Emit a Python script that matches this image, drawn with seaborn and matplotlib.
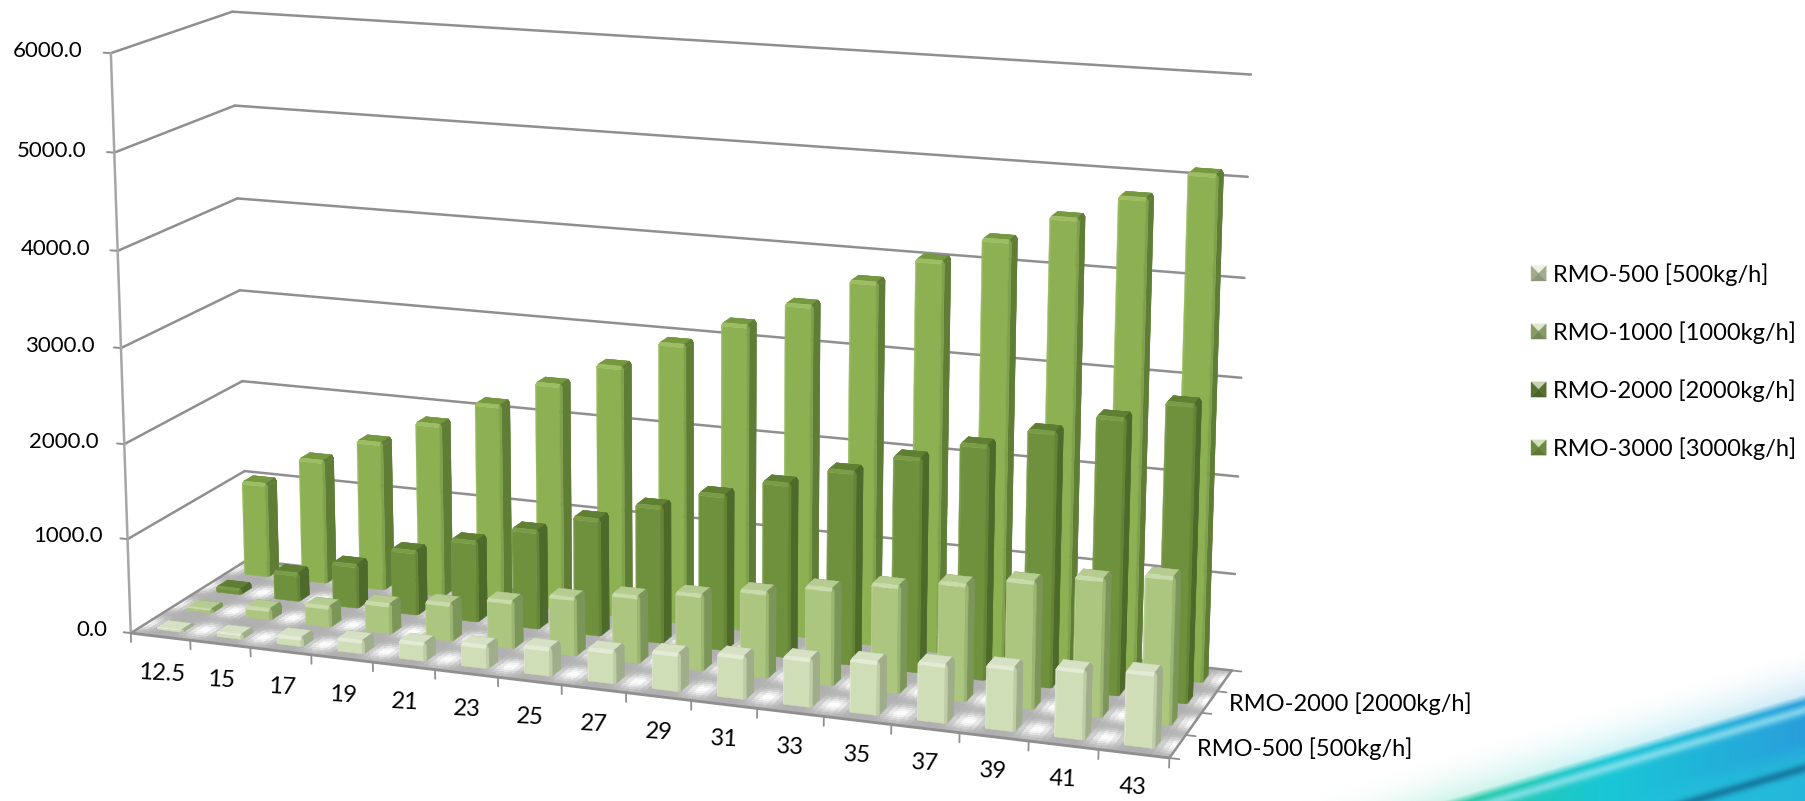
import numpy as np
import matplotlib
matplotlib.use("Agg")
import matplotlib.pyplot as plt
import seaborn as sns
from matplotlib.legend_handler import HandlerBase
from matplotlib.patches import Patch, Polygon
from mpl_toolkits.mplot3d import proj3d
from mpl_toolkits.mplot3d.art3d import Poly3DCollection

# ---- chart data -------------------------------------------------------
categories = ["12.5", "15", "17", "19", "21", "23", "25", "27",
              "29", "31", "33", "35", "37", "39", "41", "43"]
series_names = ["RMO-500 [500kg/h]", "RMO-1000 [1000kg/h]",
                "RMO-2000 [2000kg/h]", "RMO-3000 [3000kg/h]"]
rmo_500 = [20, 50, 95, 140, 190, 240, 290, 340, 390, 440, 490, 540, 590, 640, 690, 740]
rmo_1000 = [40, 120, 220, 320, 400, 500, 610, 700, 790, 890, 1000, 1100, 1190, 1290, 1390, 1480]
rmo_2000 = [60, 305, 470, 690, 865, 1050, 1240, 1440, 1630, 1815, 2005, 2205, 2400, 2600, 2800, 3000]
rmo_3000 = [1030, 1350, 1610, 1870, 2140, 2420, 2670, 2960, 3220, 3480, 3770, 4040, 4300, 4570, 4820, 5100]
value_ticks = [0, 1000, 2000, 3000, 4000, 5000, 6000]
series_axis_labels = {0: "RMO-500 [500kg/h]", 2: "RMO-2000 [2000kg/h]"}

# ---- styling ----------------------------------------------------------
sns.set_theme(style="white")
plt.rcParams["font.family"] = ["Lato", "DejaVu Sans"]
TEXT_SIZE = 17
AXIS_GREY = "#8f8f8f"

# front, left edge, right edge, side, top, top highlight
shades = [
    sns.color_palette(["#d0deb8", "#dce7c9", "#bfcda7", "#9fad8b", "#d6e1c3", "#e3ebd5"]),
    sns.color_palette(["#acc680", "#b9d08f", "#9cb573", "#7c9558", "#b6cb8f", "#c9dbaa"]),
    sns.color_palette(["#6f913d", "#789a45", "#658436", "#4e6a2a", "#5f8032", "#7b9c47"]),
    sns.color_palette(["#8cb052", "#95b95b", "#7fa149", "#5f7d35", "#76983f", "#9dbd63"]),
]

fig = plt.figure(figsize=(18.06, 8.01), dpi=100, facecolor="white")


def draw_backdrop():
    """Teal and blue sweep in the lower right corner of the slide."""
    h, w = 801, 1806
    yy, xx = np.mgrid[0:h, 0:w].astype(float)
    edge = 801 - (xx - 1447) * 0.295
    depth = yy - edge
    along = np.clip((xx - 1447) / 359, 0, 1)[..., None]
    left = np.array([0.16, 0.80, 0.62])
    mid = np.array([0.10, 0.78, 0.84])
    right = np.array([0.16, 0.62, 0.86])
    col = np.where(along < 0.45, left + (mid - left) * along / 0.45,
                   mid + (right - mid) * (along - 0.45) / 0.55)
    # pale ribbon below the rim, a dark one further down, cyan underneath
    ribbon = np.exp(-((depth - 14) / 5) ** 2)[..., None]
    col = col + (np.array([0.62, 0.90, 0.95]) - col) * ribbon * 0.7
    under = np.clip((depth - 45) / 20, 0, 1)[..., None]
    col = col + (np.array([0.14, 0.76, 0.86]) - col) * under * 0.7
    shadow = np.exp(-((depth - 72) / 5) ** 2)[..., None]
    col = col + (np.array([0.07, 0.42, 0.58]) - col) * shadow * 0.75
    solid = np.clip((depth + 4) / 10, 0, 1)
    mist = np.clip(1 + depth / 55, 0, 1) ** 2 * 0.22 * np.clip((xx - 1180) / 260, 0, 1)
    alpha = np.maximum(solid, mist)
    rgba = np.dstack([col, alpha])
    bg = fig.add_axes([0, 0, 1, 1], zorder=-1)
    bg.imshow(rgba, extent=(0, w, h, 0), aspect="auto", interpolation="bilinear")
    bg.set_axis_off()


draw_backdrop()

# ---- 3D axes with a calibrated camera ----------------------------------
ax = fig.add_axes([0, (801 - 1806) / 2 / 801, 1, 1806 / 801],
                  projection="3d", computed_zorder=False)
ax.set_axis_off()
ax.patch.set_visible(False)
ax.apply_aspect()

n_cat, n_ser, z_top = len(categories), len(series_names), value_ticks[-1]

# Box corners and where each of them lands on the canvas (pixels from top-left)
box_corners = [(0, 0, 0), (0, 0, z_top), (0, n_ser, 0), (0, n_ser, z_top),
               (n_cat, n_ser, 0), (n_cat, n_ser, z_top), (n_cat, 0, 0)]
canvas_corners = [(132.5, 631.2), (109.4, 53.0), (245.3, 562.1), (233.8, 11.5),
                  (1232.4, 668.0), (1250.8, 74.9), (1169.0, 760.2)]


def fit_camera():
    scale = np.array([n_cat, n_ser, z_top], float)
    px = np.array(canvas_corners)
    disp = np.column_stack([px[:, 0], fig.bbox.height - px[:, 1]])
    uv = ax.transData.inverted().transform(disp)
    rows = []
    for (X, Y, Z), (u, v) in zip(np.array(box_corners) / scale, uv):
        rows.append([X, Y, Z, 1, 0, 0, 0, 0, -u * X, -u * Y, -u * Z, -u])
        rows.append([0, 0, 0, 0, X, Y, Z, 1, -v * X, -v * Y, -v * Z, -v])
    p = np.linalg.svd(np.array(rows))[2][-1].reshape(3, 4)
    p[:, :3] = p[:, :3] / scale
    if p[2] @ np.array([n_cat / 2, n_ser / 2, 0, 1]) < 0:
        p = -p
    return np.vstack([p[0], p[1], [0, 0, 0, -1], p[2]])


camera = fit_camera()
ax.get_proj = lambda: camera


def label(x, y, z, text, **kw):
    """Place a flat label at the screen position of a point in the box."""
    u, v, _ = proj3d.proj_transform(x, y, z, camera)
    ax.text2D(float(u), float(v), text, transform=ax.transData, color="black",
              va="center", zorder=5000, **kw)


# ---- floor -------------------------------------------------------------
xs = np.linspace(0, n_cat, 193)
ys = np.linspace(0, n_ser, 49)
X, Y = np.meshgrid(xs, ys)
xc = 0.5 * (X[:-1, :-1] + X[1:, 1:])
yc = 0.5 * (Y[:-1, :-1] + Y[1:, 1:])
gaps = np.cos(np.pi * xc) ** 4
lanes = np.sin(np.pi * yc) ** 2
tone = 0.69 + 0.31 * gaps * (0.1 + 0.9 * lanes)
floor_rgb = np.dstack([tone, tone, tone])
ax.plot_surface(X, Y, np.zeros_like(X), facecolors=floor_rgb, rstride=1, cstride=1,
                shade=False, linewidth=0, antialiased=False, zorder=0)


def line(p, q, lw=1.8, color=AXIS_GREY, z=1):
    ax.plot([p[0], q[0]], [p[1], q[1]], [p[2], q[2]], color=color, lw=lw,
            solid_capstyle="round", zorder=z)


# walls
for v in value_ticks:
    line((0, 0, v), (0, n_ser, v))
    line((0, n_ser, v), (n_cat, n_ser, v))
    line((0, 0, v), (-0.12, 0, v), lw=1.4)
    label(-0.4 - 0.07 * v / z_top, 0, v, f"{v:.1f}", ha="right", fontsize=TEXT_SIZE - 1)
line((0, 0, 0), (0, 0, z_top), color="#a6a6a6")
line((0, 0, 0), (n_cat, 0, 0), lw=2.0)
line((n_cat, 0, 0), (n_cat, n_ser, 0))

# category axis
for i in range(n_cat + 1):
    line((i, 0, 0), (i, 0, -95), lw=1.3)
for i, text in enumerate(categories):
    label(i + 0.5, 0, -395 + 4 * i, text, ha="center", fontsize=TEXT_SIZE,
          rotation=-3, rotation_mode="anchor")

# series axis
for r in range(n_ser + 1):
    line((n_cat, r, 0), (n_cat + 0.14, r, 0), lw=1.3)
for r, text in series_axis_labels.items():
    label(n_cat + 0.28, r + 0.5, 0, text, ha="left", fontsize=TEXT_SIZE)


# ---- bars --------------------------------------------------------------
def bar_faces(x0, x1, y0, y1, h, palette):
    """Bevelled box as quads; triangles repeat their last vertex."""
    front, lit, edge, side, top, rim = palette
    bx, by = 0.03, 0.035
    bz = min(0.4 * h, 32)
    zm = h - bz
    xa, xb, ya, yb = x0 + bx, x1 - bx, y0 + by, y1 - by
    faces = [
        # rear and left bevels of the cap
        ([(x0, ya, zm), (xa, ya, h), (xa, yb, h), (x0, yb, zm)], rim),
        ([(xa, y1, zm), (xb, y1, zm), (xb, yb, h), (xa, yb, h)], side),
        ([(x0, yb, zm), (xa, yb, h), (xa, y1, zm), (xa, y1, zm)], top),
        ([(xb, y1, zm), (x1, yb, zm), (xb, yb, h), (xb, yb, h)], side),
        # walls
        ([(x0, ya, 0), (xa, y0, 0), (xa, y0, zm), (x0, ya, zm)], lit),
        ([(xa, y0, 0), (xb, y0, 0), (xb, y0, zm), (xa, y0, zm)], front),
        ([(xb, y0, 0), (x1, ya, 0), (x1, ya, zm), (xb, y0, zm)], edge),
        ([(x1, ya, 0), (x1, yb, 0), (x1, yb, zm), (x1, ya, zm)], side),
        ([(x1, yb, 0), (xb, y1, 0), (xb, y1, zm), (x1, yb, zm)], side),
        # cap
        ([(xa, ya, h), (xb, ya, h), (xb, yb, h), (xa, yb, h)], top),
        ([(xa, y0, zm), (xb, y0, zm), (xb, ya, h), (xa, ya, h)], rim),
        ([(xb, ya, h), (x1, ya, zm), (x1, yb, zm), (xb, yb, h)], side),
        ([(x0, ya, zm), (xa, y0, zm), (xa, ya, h), (xa, ya, h)], rim),
        ([(xb, y0, zm), (x1, ya, zm), (xb, ya, h), (xb, ya, h)], edge),
    ]
    return [f[0] for f in faces], [f[1] for f in faces]


all_series = [rmo_500, rmo_1000, rmo_2000, rmo_3000]
for r in range(n_ser - 1, -1, -1):
    for c, value in enumerate(all_series[r]):
        verts, cols = bar_faces(c + 0.28, c + 0.72, r + 0.3, r + 0.7, value, shades[r])
        ax.add_collection3d(Poly3DCollection(
            verts, facecolors=cols, edgecolors=cols, linewidths=0.3,
            zorder=10 + (n_ser - r) * 100 + c))


# ---- legend ------------------------------------------------------------
class BevelSwatch(HandlerBase):
    """Small pyramid-shaded square used as the legend key."""

    def create_artists(self, legend, orig_handle, xdescent, ydescent, width, height,
                       fontsize, trans):
        s = 11.0
        x0, y0 = -xdescent, -ydescent + (height - s) / 2
        x1, y1 = x0 + s, y0 + s
        mx, my = x0 + s / 2, y0 + s / 2
        base = np.array(orig_handle.get_facecolor()[:3])
        light = base + (1 - base) * 0.6
        dark = base * 0.78
        tris = [([(x0, y1), (x1, y1), (mx, my)], light),
                ([(x0, y0), (x0, y1), (mx, my)], dark),
                ([(x1, y0), (x1, y1), (mx, my)], dark),
                ([(x0, y0), (x1, y0), (mx, my)], base * 0.68)]
        return [Polygon(v, closed=True, facecolor=col, edgecolor=col, lw=0.2,
                        transform=trans) for v, col in tris]


handles = [Patch(facecolor=shades[i][0], label=series_names[i]) for i in range(n_ser)]
fig.legend(handles=handles, loc="upper left", bbox_to_anchor=(1531 / 1806, 1 - 263 / 801),
           frameon=False, fontsize=TEXT_SIZE, labelspacing=1.5, handlelength=0.7,
           handletextpad=0.22, borderpad=0, borderaxespad=0,
           handler_map={Patch: BevelSwatch()}, labelcolor="black")

fig.savefig("out.png", dpi=100, facecolor="white")
